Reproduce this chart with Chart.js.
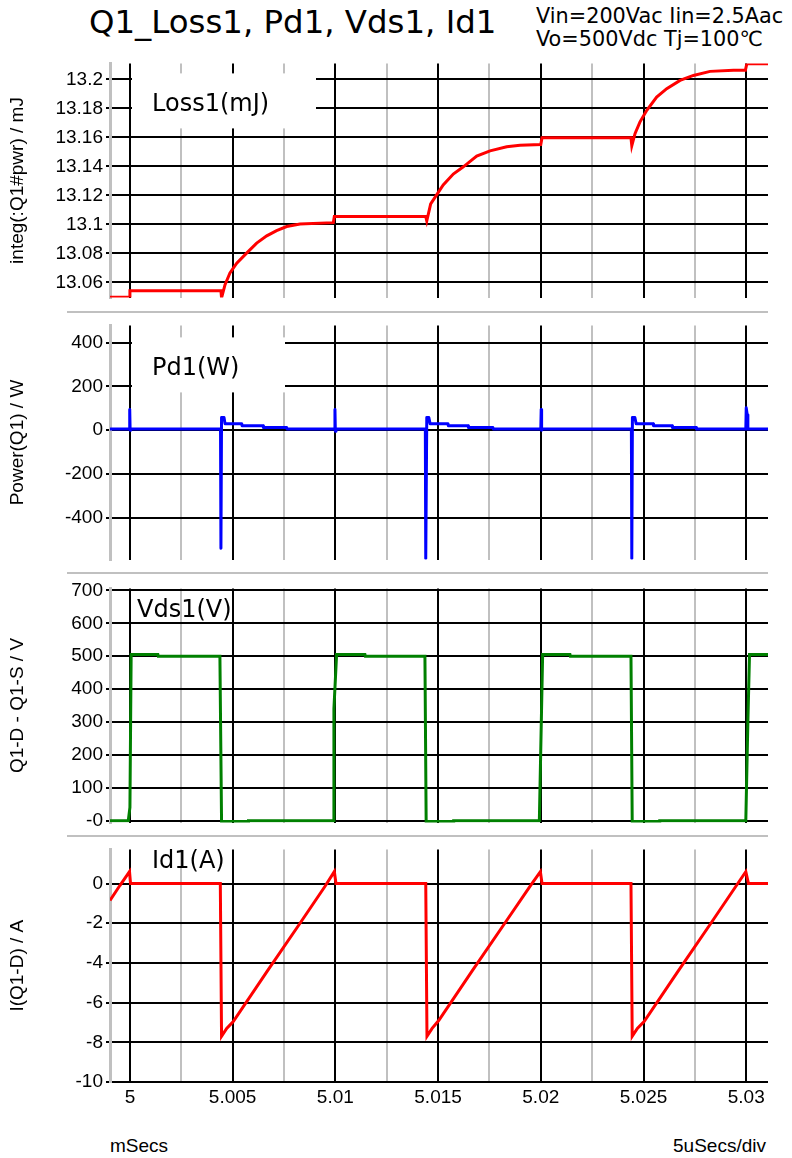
<!DOCTYPE html>
<html>
<head>
<meta charset="utf-8">
<script src="https://cdn.jsdelivr.net/npm/chart.js@4.4.0/dist/chart.umd.min.js"></script>
<style>
  body { margin: 0; background: #fff; }
  #wrap { position: relative; width: 792px; height: 1158px; overflow: hidden; background: #fff; }
  canvas { position: absolute; left: 0; }
  .txt { position: absolute; white-space: nowrap; color: #000; line-height: 1; }
  .sep { position: absolute; left: 67px; width: 701px; height: 2px; background: #c0c0c0; }
</style>
</head>
<body>
<div id="wrap">
  <div class="txt" style="left:89px; top:6px; font-family:'DejaVu Sans'; font-size:32.4px;">Q1_Loss1, Pd1, Vds1, Id1</div>
  <div class="txt" style="left:536px; top:6px; font-family:'DejaVu Sans'; font-size:20.8px;">Vin=200Vac Iin=2.5Aac</div>
  <div class="txt" style="left:536px; top:29px; font-family:'DejaVu Sans'; font-size:20.8px;">Vo=500Vdc Tj=100℃</div>

  <canvas id="c1" width="792" height="263" style="top:49px"></canvas>
  <div class="sep" style="top:311px"></div>
  <canvas id="c2" width="792" height="263" style="top:311px"></canvas>
  <div class="sep" style="top:572px"></div>
  <canvas id="c3" width="792" height="263" style="top:574px"></canvas>
  <div class="sep" style="top:835px"></div>
  <canvas id="c4" width="792" height="277" style="top:835px"></canvas>

  <div class="txt" style="left:110px; top:1136px; font-family:'Liberation Sans'; font-size:19px;">mSecs</div>
  <div class="txt" style="right:26px; top:1136px; font-family:'Liberation Sans'; font-size:19px;">5uSecs/div</div>
</div>
<script>
// x axis (mSecs)
const xMin = 4.99903;
const xMax = 5.03106;
const xMajorTicks = [5, 5.005, 5.01, 5.015, 5.02, 5.025, 5.03];
const xTickLabels = ['5', '5.005', '5.01', '5.015', '5.02', '5.025', '5.03'];
const xMinorTicks = [5.0025, 5.0075, 5.0125, 5.0175, 5.0225, 5.0275];

// Loss1 (mJ)
const lossT = [4.99903, 4.99998, 5.00000, 5.00443, 5.00446, 5.00463, 5.00487, 5.00520, 5.00568, 5.00617, 5.00666, 5.00714, 5.00763, 5.00828, 5.00990, 5.00995,
  5.01440, 5.01445, 5.01464, 5.01493, 5.01525, 5.01574, 5.01623, 5.01688, 5.01753, 5.01834, 5.01899, 5.02000, 5.02006,
  5.02439, 5.02443, 5.02459, 5.02483, 5.02516, 5.02564, 5.02613, 5.02678, 5.02743, 5.02824, 5.02938, 5.02996, 5.03003, 5.03106];
const lossV = [13.0497, 13.0497, 13.0543, 13.0543, 13.0493, 13.0584, 13.0665, 13.0733, 13.0802, 13.0871, 13.0921, 13.0957, 13.0985, 13.1003, 13.1012, 13.1054,
  13.1054, 13.1024, 13.1141, 13.1203, 13.1272, 13.1347, 13.1397, 13.1471, 13.1507, 13.1535, 13.1546, 13.1551, 13.1597,
  13.1597, 13.1542, 13.1627, 13.1707, 13.1787, 13.1878, 13.1936, 13.1993, 13.2027, 13.2055, 13.2062, 13.2062, 13.2108, 13.2108];
const lossTicks = [13.06, 13.08, 13.1, 13.12, 13.14, 13.16, 13.18, 13.2];
const lossTickLabels = ['13.06', '13.08', '13.1', '13.12', '13.14', '13.16', '13.18', '13.2'];

// Pd1 (W)
const pdT = [4.99903, 4.99997, 4.99999, 5.00001, 5.00003,
  5.00441, 5.00443, 5.00446, 5.00458, 5.00463, 5.00544, 5.00546, 5.00648, 5.00650, 5.00763, 5.00765,
  5.00996, 5.00998, 5.01000, 5.01003,
  5.01438, 5.01440, 5.01445, 5.01455, 5.01461, 5.01548, 5.01550, 5.01646, 5.01648, 5.01767, 5.01769,
  5.02000, 5.02002, 5.02004, 5.02006,
  5.02441, 5.02443, 5.02446, 5.02458, 5.02464, 5.02547, 5.02549, 5.02639, 5.02641, 5.02756, 5.02758,
  5.02998, 5.03000, 5.03005, 5.03008, 5.03106];
const pdV = [5, 5, 95, 0, 5,
  5, -538, 58, 58, 30, 30, 20, 20, 12, 12, 5,
  5, 95, -5, 5,
  5, -585, 58, 58, 30, 30, 20, 20, 12, 12, 5,
  5, 95, 0, 5,
  5, -585, 58, 58, 30, 30, 20, 20, 12, 12, 5,
  5, 102, 70, 5, 5];
const pdTicks = [-400, -200, 0, 200, 400];
const pdTickLabels = ['-400', '-200', '0', '200', '400'];

// Vds1 (V)
const vdsT = [4.99903, 4.99992, 5.00000, 5.00006, 5.00136, 5.00138, 5.00438, 5.00446, 5.00575, 5.00577,
  5.00990, 5.00993, 5.01006, 5.01144, 5.01146, 5.01436, 5.01442, 5.01574, 5.01576,
  5.01993, 5.02009, 5.02142, 5.02144, 5.02439, 5.02445, 5.02577, 5.02579,
  5.02998, 5.03008, 5.03016, 5.03106];
const vdsV = [0, 0, 40, 505, 505, 500, 500, -3, -3, 0,
  0, 340, 505, 505, 500, 500, -3, -3, 0,
  0, 505, 505, 500, 500, -3, -3, 0,
  0, 300, 505, 505];
const vdsTicks = [0, 100, 200, 300, 400, 500, 600, 700];
const vdsTickLabels = ['-0', '100', '200', '300', '400', '500', '600', '700'];

// Id1 (A)
const idT = [4.99903, 4.99951, 4.99998, 5.00003, 5.00440, 5.00446, 5.00471, 5.00503, 5.00666, 5.00828, 5.00949, 5.00995, 5.01003,
  5.01440, 5.01446, 5.01471, 5.01503, 5.01666, 5.01828, 5.01949, 5.01998, 5.02006,
  5.02439, 5.02445, 5.02470, 5.02503, 5.02666, 5.02828, 5.02949, 5.02998, 5.03011, 5.03106];
const idV = [-0.85, -0.1, 0.6, 0, 0, -7.7, -7.3, -6.95, -4.45, -2.0, -0.15, 0.6, 0,
  0, -7.7, -7.3, -6.9, -4.4, -1.95, -0.12, 0.6, 0,
  0, -7.7, -7.3, -6.95, -4.45, -2.0, -0.15, 0.6, 0, 0];
const idTicks = [-10, -8, -6, -4, -2, 0];
const idTickLabels = ['-10', '-8', '-6', '-4', '-2', '0'];

const panelLabel = {
  id: 'panelLabel',
  beforeDatasetsDraw(chart, args, opts) {
    const { ctx, chartArea } = chart;
    ctx.save();
    if (opts.box) {
      const [x0, y0, x1, y1] = opts.box;
      ctx.fillStyle = '#fff';
      ctx.fillRect(chartArea.left + x0, chartArea.top + y0, x1 - x0, y1 - y0);
    }
    ctx.fillStyle = '#000';
    ctx.font = '24px "DejaVu Sans"';
    ctx.textBaseline = 'alphabetic';
    ctx.fillText(opts.text, chartArea.left + opts.x, chartArea.top + opts.y);
    ctx.restore();
  }
};

function makePanel(id, xs, ys, color, join, yMin, yMax, yTicks, yLabels, yTitle, label, showX) {
  const pts = xs.map((x, i) => ({ x: x, y: ys[i] }));
  const font = { family: 'Liberation Sans', size: 19 };
  return new Chart(document.getElementById(id), {
    type: 'line',
    data: {
      datasets: [{
        data: pts,
        borderColor: color,
        borderWidth: 3,
        borderJoinStyle: join,
        pointRadius: 0,
        fill: false,
        tension: 0
      }]
    },
    plugins: [panelLabel],
    options: {
      responsive: false,
      animation: false,
      devicePixelRatio: 1,
      layout: { padding: { top: 14, bottom: showX ? 0 : 14, left: 0, right: 24 } },
      plugins: {
        legend: { display: false },
        tooltip: { enabled: false },
        panelLabel: label
      },
      scales: {
        x: {
          type: 'linear',
          min: xMin,
          max: xMax,
          bounds: 'data',
          afterBuildTicks: s => {
            s.ticks = xMajorTicks.concat(xMinorTicks).sort((a, b) => a - b).map(v => ({ value: v }));
          },
          afterFit: s => { s.height = showX ? 30 : 0; },
          ticks: {
            display: showX,
            autoSkip: false,
            maxRotation: 0,
            padding: 4,
            color: '#000',
            font: font,
            callback: v => {
              const k = xMajorTicks.indexOf(v);
              return k >= 0 ? xTickLabels[k] : '';
            }
          },
          grid: {
            drawTicks: false,
            lineWidth: 2,
            color: c => (c.tick && xMajorTicks.indexOf(c.tick.value) >= 0) ? '#000' : '#c0c0c0'
          },
          border: { display: false }
        },
        y: {
          min: yMin,
          max: yMax,
          bounds: 'data',
          afterBuildTicks: s => { s.ticks = yTicks.map(v => ({ value: v })); },
          afterFit: s => { s.width = 110; },
          ticks: {
            autoSkip: false,
            padding: 3,
            color: '#000',
            font: font,
            callback: (v, i) => yLabels[i]
          },
          grid: { color: '#000', lineWidth: 2, tickLength: 4 },
          border: { display: true, color: '#c0c0c0', width: 3 },
          title: {
            display: true,
            text: yTitle,
            color: '#000',
            font: font,
            padding: { top: 6, bottom: 0 }
          }
        }
      }
    }
  });
}

makePanel('c1', lossT, lossV, '#ff0000', 'miter', 13.0495, 13.211, lossTicks, lossTickLabels,
  'integ(:Q1#pwr) / mJ', { text: 'Loss1(mJ)', x: 42, y: 48, box: [22, 10, 206, 65] }, false);
makePanel('c2', pdT, pdV, '#0000ff', 'round', -590, 478, pdTicks, pdTickLabels,
  'Power(Q1) / W', { text: 'Pd1(W)', x: 42, y: 50, box: [22, 12, 175, 67] }, false);
makePanel('c3', vdsT, vdsV, '#008000', 'miter', -6, 706, vdsTicks, vdsTickLabels,
  'Q1-D - Q1-S / V', { text: 'Vds1(V)', x: 27, y: 29, box: null }, false);
makePanel('c4', idT, idV, '#ff0000', 'miter', -10, 1.72, idTicks, idTickLabels,
  'I(Q1-D) / A', { text: 'Id1(A)', x: 42, y: 19, box: null }, true);
</script>
</body>
</html>
